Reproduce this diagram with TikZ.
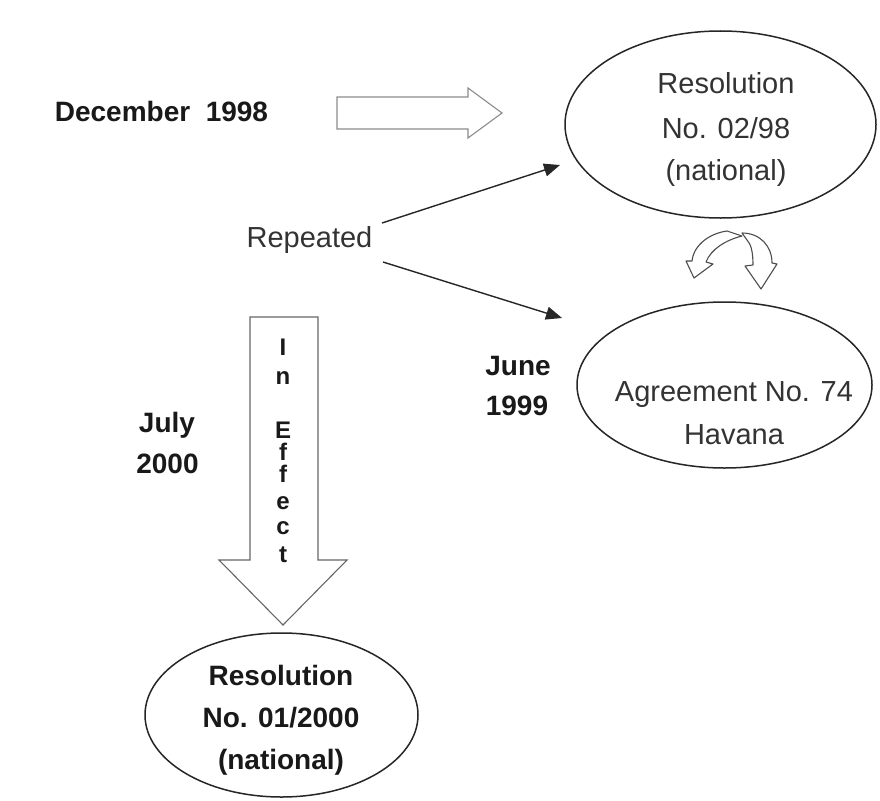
\documentclass[tikz,border=0pt]{standalone}
\usepackage{fontspec}
\setmainfont{Liberation Sans}
\usetikzlibrary{shapes.geometric,arrows.meta}
\begin{document}
\begin{tikzpicture}[x=1pt,y=-1pt,
  oval/.style={draw=black!85, line width=1.5pt, ellipse, inner sep=0pt},
  reg/.style={anchor=base, inner sep=0pt, text=black!80, font=\fontsize{29}{35}\selectfont},
  bld/.style={anchor=base, inner sep=0pt, text=black!90, font=\bfseries\fontsize{28}{34}\selectfont},
  letter/.style={anchor=base, inner sep=0pt, text=black!90, font=\bfseries\fontsize{24}{28}\selectfont},
  blockarrow/.style={draw=black!45, line width=1.1pt, fill=white, line join=miter},
  curvearrow/.style={draw=black!70, line width=1.1pt, fill=white, line join=round},
  link/.style={draw=black!85, line width=1.4pt, -{Triangle[length=16pt,width=13pt]}}]
\useasboundingbox (0,0) rectangle (880,800);
\fill[white] (0,0) rectangle (880,800);

% ellipses
\node[oval, minimum width=311pt, minimum height=187pt] (res98) at (720.5,124.5) {};
\node[oval, minimum width=295pt, minimum height=166pt] (agr) at (724.5,385) {};
\node[oval, minimum width=273pt, minimum height=164pt] (res00) at (281.5,715) {};

% texts inside the ellipses
\node[reg] (r98a) at (726,93) {Resolution};
\node[reg] (r98b) at (726,138) {No. 02/98};
\node[reg] (r98c) at (726,180) {(national)};
\node[reg] (agra) at (734,401) {Agreement No. 74};
\node[reg] (agrb) at (734,444) {Havana};
\node[bld] (r00a) at (281,685) {Resolution};
\node[bld] (r00b) at (281,727) {No. 01/2000};
\node[bld] (r00c) at (281,769) {(national)};

% dates and labels
\node[bld] (dec) at (161.5,121) {December\ \ 1998};
\node[reg] (rep) at (309.5,247) {Repeated};
\node[bld] (jun) at (518,375) {June};
\node[bld] (jun99) at (517,415) {1999};
\node[bld] (jul) at (167,432) {July};
\node[bld] (jul00) at (167.5,473) {2000};

% outline arrow towards the first resolution
\path[blockarrow] (337,97) -- (468,97) -- (468,88) -- (502,113) -- (468,138)
  -- (468,129) -- (337,129) -- cycle;

% downward outline arrow
\path[blockarrow, draw=black!60] (250,317) -- (318,317) -- (318,560) -- (347,560) -- (283,625)
  -- (219,560) -- (250,560) -- cycle;
\node[letter] (l1) at (283,355) {I};
\node[letter] (l2) at (283,384) {n};
\node[letter] (l3) at (283,438) {E};
\node[letter] (l4) at (283,460) {f};
\node[letter] (l5) at (283,482) {f};
\node[letter] (l6) at (283,509) {e};
\node[letter] (l7) at (283,534) {c};
\node[letter] (l8) at (283,562) {t};

% curved arrows between the two upper ellipses
\path[curvearrow] (727,231) .. controls (706,234) and (693,248) .. (692,261)
  -- (686,261) -- (694,278) -- (713,264) -- (706,262)
  .. controls (711,249) and (726,240) .. (742,236) -- cycle;
\path[curvearrow] (742,233) .. controls (760,233) and (772,246) .. (772,263)
  -- (777,264) -- (761,289) -- (745,266) -- (753,265)
  .. controls (753,252) and (751,244) .. (747,240) -- cycle;

% connectors from "Repeated"
\coordinate (repup) at (382,223);
\coordinate (repdn) at (383,262);
\coordinate (tores) at (560,165);
\coordinate (toagr) at (562,318);
\draw[link] (repup) -- (tores);
\draw[link] (repdn) -- (toagr);
\end{tikzpicture}
\end{document}
